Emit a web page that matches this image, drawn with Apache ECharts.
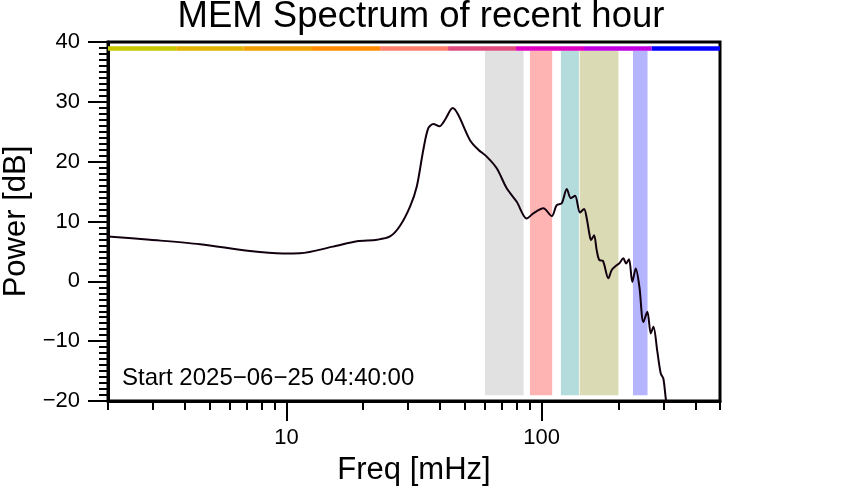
<!DOCTYPE html>
<html>
<head>
<meta charset="utf-8">
<script src="https://cdn.jsdelivr.net/npm/echarts@6/dist/echarts.min.js"></script>
<style>html,body{margin:0;padding:0;background:#fff;}#c{width:842px;height:500px;}</style>
</head>
<body>
<div id="c"></div>
<script>
// ---- data ----
const freq = [2, 2.92, 4.59, 7.2, 9.7, 11.31, 15.23, 18.91, 22.66, 25.47, 27.88, 30.51, 32.41, 34.4, 35.98, 37.66, 39.75, 41.84, 44.84, 47.18, 52.42, 56.5, 60.94, 66.7, 73.0, 79.9, 87.4, 92.8, 101.6, 109.6, 114.6, 119.9, 125.5, 130.1, 135.2, 141.4, 146.7, 150.3, 153.8, 156.2, 160.5, 164.4, 168.4, 173.6, 182.6, 188.3, 196.9, 201.6, 209.0, 214.2, 220.0, 226.7, 233.8, 241.6, 250.5, 259.6, 267.8, 274.2, 284.2, 293.0, 299.9, 307.3, 312];
const power = [7.5, 6.95, 6.2, 5.05, 4.67, 4.7, 5.8, 6.7, 6.95, 7.5, 9.3, 12.5, 15.8, 22.0, 25.6, 26.3, 25.9, 27.0, 28.95, 27.8, 23.6, 22.0, 20.85, 18.9, 15.55, 13.3, 10.5, 11.35, 12.2, 10.9, 12.75, 13.05, 15.45, 13.9, 14.3, 11.5, 12.1, 10.5, 8.0, 6.9, 7.7, 5.2, 3.55, 3.45, 0.5, 1.9, 2.7, 3.0, 3.85, 3.0, 3.7, -0.1, 2.15, -0.9, -6.8, -5.1, -8.7, -7.6, -11.8, -15.4, -16.25, -19.9, -21];

// shaded frequency bands [from, to] in mHz
const bandRanges = [[60, 85], [90, 110], [119, 140], [141, 200], [228, 260]];
const bandColors = ['#e1e1e1', '#ffb4b4', '#b4dcdc', '#dadab4', '#b4b4ff'];
const bandPower = [-19.05, 38.55];

// colour strip along the top
const stripEdges = [2, 3.7, 6.8, 12.6, 23.3, 43, 79.4, 146.6, 270, 500];
const stripColors = ['#c8c800', '#e0b400', '#f0a000', '#ff8c00', '#ff7f6e', '#e04c80', '#e000c0', '#c000e0', '#0000ff'];
const stripPower = [38.55, 39.3];

const majorFreqTicks = [10, 100];
const minorFreqTicks = [2, 3, 4, 5, 6, 7, 8, 9, 20, 30, 40, 50, 60, 70, 80, 90, 200, 300, 400, 500];
const powerTicks = [-20, -10, 0, 10, 20, 30, 40];

const titleText = 'MEM Spectrum of recent hour';
const startText = 'Start 2025\u221206\u221225 04:40:00';

// ---- chart ----
const FONT = 'Liberation Sans, Arial, Helvetica, sans-serif';
const chart = echarts.init(document.getElementById('c'), null, {renderer: 'canvas'});

const bandAreas = bandRanges.map((r, i) => [
  {xAxis: r[0], yAxis: bandPower[0], itemStyle: {color: bandColors[i], opacity: 1}},
  {xAxis: r[1], yAxis: bandPower[1]}
]);
const stripAreas = stripColors.map((c, i) => [
  {xAxis: stripEdges[i], yAxis: stripPower[0], itemStyle: {color: c, opacity: 1}},
  {xAxis: stripEdges[i + 1], yAxis: stripPower[1]}
]);

const logAxisBase = {
  type: 'log', logBase: 10, min: 2, max: 500, gridIndex: 0, position: 'bottom',
  splitLine: {show: false}, minorTick: {show: false}, minorSplitLine: {show: false}
};

chart.setOption({
  animation: false,
  backgroundColor: '#fff',
  title: {
    text: titleText, left: 'center', top: -2, padding: 0,
    textStyle: {fontFamily: FONT, fontSize: 36.5, fontWeight: 'normal', color: '#000'}
  },
  grid: {left: 108, right: 122, top: 42, bottom: 99, show: true, borderColor: '#000', borderWidth: 3,
    backgroundColor: 'transparent', containLabel: false, outerBoundsMode: 'none'},
  xAxis: [
    Object.assign({}, logAxisBase, {
      axisLine: {show: true, onZero: false, lineStyle: {color: '#000', width: 3}},
      axisTick: {show: false}, axisLabel: {show: false}
    }),
    Object.assign({}, logAxisBase, {
      name: 'Freq [mHz]', nameLocation: 'middle', nameGap: 54,
      nameTextStyle: {fontFamily: FONT, fontSize: 31, color: '#000'},
      axisLine: {show: false, onZero: false},
      axisTick: {show: true, length: 20, lineStyle: {color: '#000', width: 2}, customValues: majorFreqTicks},
      axisLabel: {show: true, margin: 26, fontFamily: FONT, fontSize: 22, color: '#000', customValues: majorFreqTicks,
        formatter: v => String(Math.round(v))}
    }),
    Object.assign({}, logAxisBase, {
      axisLine: {show: false, onZero: false},
      axisTick: {show: true, length: 9, lineStyle: {color: '#000', width: 2}, customValues: minorFreqTicks},
      axisLabel: {show: false}
    })
  ],
  yAxis: {
    type: 'value', min: powerTicks[0], max: powerTicks[powerTicks.length - 1], interval: 10,
    name: 'Power [dB]', nameLocation: 'middle', nameGap: 75.5, nameRotate: 90,
    nameTextStyle: {fontFamily: FONT, fontSize: 31, color: '#000'},
    axisLine: {show: true, onZero: false, lineStyle: {color: '#000', width: 3}},
    axisTick: {show: true, length: 20, lineStyle: {color: '#000', width: 2}},
    minorTick: {show: true, splitNumber: 10, length: 9, lineStyle: {color: '#000', width: 2}},
    splitLine: {show: false},
    axisLabel: {margin: 28, fontFamily: FONT, fontSize: 22, color: '#000',
      formatter: v => String(v).replace('-', '\u2212')}
  },
  series: [
    {
      type: 'line', xAxisIndex: 0, yAxisIndex: 0, data: [], silent: true, z: 1,
      markArea: {silent: true, data: bandAreas.concat(stripAreas)}
    },
    {
      type: 'line', xAxisIndex: 0, yAxisIndex: 0, z: 5,
      data: freq.map((f, i) => [f, power[i]]),
      showSymbol: false, smooth: 0.3, clip: true,
      lineStyle: {color: '#12000f', width: 2}
    }
  ],
  graphic: [{
    type: 'text', left: 122, top: 366,
    style: {text: startText, font: '24px ' + FONT, fill: '#000'}
  }]
});
</script>
</body>
</html>
